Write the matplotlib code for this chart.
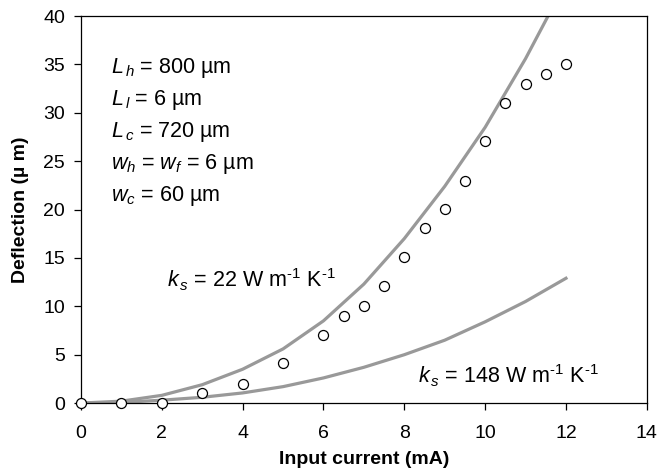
import matplotlib
matplotlib.use("Agg")
import matplotlib.pyplot as plt

plt.rcParams['font.family'] = ['Liberation Sans', 'DejaVu Sans']
plt.rcParams['mathtext.fontset'] = 'custom'
plt.rcParams['mathtext.rm'] = 'Liberation Sans'
plt.rcParams['mathtext.it'] = 'Liberation Sans:italic'
plt.rcParams['mathtext.bf'] = 'Liberation Sans:bold'

# Measured data (open circles)
meas_x = [0, 1, 2, 3, 4, 5, 6, 6.5, 7, 7.5, 8, 8.5, 9, 9.5, 10, 10.5, 11, 11.5, 12]
meas_y = [0, 0, 0, 1.05, 2.0, 4.1, 7.05, 9.0, 10.0, 12.1, 15.05, 18.1, 20.05, 23.0, 27.05, 31.0, 33.0, 34.0, 35.0]

# Model curves
model_x = [0, 1, 2, 3, 4, 5, 6, 7, 8, 9, 10, 11, 12]
ks22_y = [0, 0.2, 0.8, 1.9, 3.5, 5.6, 8.5, 12.3, 17.0, 22.4, 28.5, 35.6, 43.5]
ks148_y = [0, 0.07, 0.3, 0.6, 1.05, 1.7, 2.6, 3.7, 5.0, 6.5, 8.4, 10.5, 12.9]

xticks = [0, 2, 4, 6, 8, 10, 12, 14]
yticks = [0, 5, 10, 15, 20, 25, 30, 35, 40]

params = [r'$L_{\,h}$ = 800 µm', r'$L_{\,l}$ = 6 µm', r'$L_{\,c}$ = 720 µm',
          r'$w_h$ = $w_f$ = 6 µm', r'$w_c$ = 60 µm']
params_y = [34.1, 30.8, 27.5, 24.2, 20.9]

fig = plt.figure(figsize=(6.6, 4.72), dpi=100)
ax = fig.add_axes([0.1227, 0.146, 0.8573, 0.820])

gray = '#999999'
ax.plot(model_x, ks22_y, color=gray, lw=2.3, zorder=2)
ax.plot(model_x, ks148_y, color=gray, lw=2.3, zorder=2)
ax.plot(meas_x, meas_y, linestyle='none', marker='o', markersize=7.2,
        markerfacecolor='white', markeredgecolor='black', markeredgewidth=0.9,
        zorder=3, clip_on=False)

ax.set_xlim(0, 14)
ax.set_ylim(0, 40)
ax.set_xticks(xticks)
ax.set_yticks(yticks)
ax.tick_params(direction='out', length=5, width=0.9, labelsize=14)
ax.tick_params(axis='x', pad=11)
ax.tick_params(axis='y', pad=6.5)
for s in ax.spines.values():
    s.set_linewidth(0.9)
    s.set_color('black')

ax.set_xlabel('Input current (mA)', fontsize=14, fontweight='bold', labelpad=6)
ax.set_ylabel('Deflection (µ m)', fontsize=14, fontweight='bold', labelpad=10)

for t, yy in zip(params, params_y):
    ax.text(0.74, yy, t, fontsize=15.5, va='baseline', ha='left')

ax.text(2.13, 12.0, '$k_{\\,s}$ = 22 W m$^{\u20101}$ K$^{\u20101}$', fontsize=15.5, va='baseline', ha='left')
ax.text(8.34, 2.0, '$k_{\\,s}$ = 148 W m$^{\u20101}$ K$^{\u20101}$', fontsize=15.5, va='baseline', ha='left')

fig.savefig('out.png', dpi=100)
